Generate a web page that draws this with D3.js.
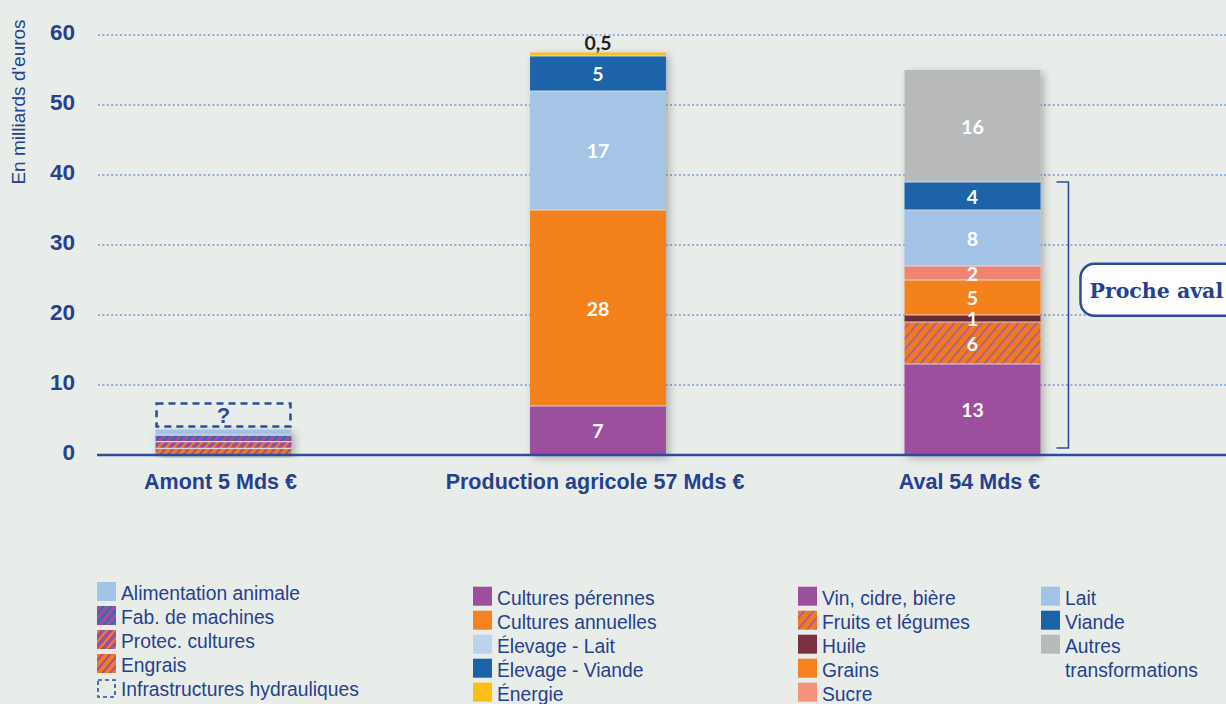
<!DOCTYPE html>
<html><head><meta charset="utf-8">
<script src="https://cdn.jsdelivr.net/npm/d3@7"></script>
<style>
html,body{margin:0;padding:0;background:#e9edea;}
svg{display:block;}
</style></head>
<body>
<svg id="chart" width="1226" height="704"></svg>
<script>
// ---------- DATA ----------
const categories = ["Amont 5 Mds €", "Production agricole 57 Mds €", "Aval 54 Mds €"];

const amontSeries = ["Engrais", "Protec. cultures", "Fab. de machines", "Alimentation animale"];
const amontValues = [0.95, 0.95, 0.95, 0.8];
const amontUnknown = 3.7;   // Infrastructures hydrauliques (?)

const productionSeries = ["Cultures pérennes", "Cultures annuelles", "Élevage - Lait", "Élevage - Viande", "Énergie"];
const productionValues = [7, 28, 17, 5, 0.5];
const productionLabels = ["7", "28", "17", "5", "0,5"];

const avalSeries = ["Vin, cidre, bière", "Fruits et légumes", "Huile", "Grains", "Sucre", "Lait", "Viande", "Autres transformations"];
const avalValues = [13, 6, 1, 5, 2, 8, 4, 16];
const avalLabels = ["13", "6", "1", "5", "2", "8", "4", "16"];
const procheAvalSeries = ["Vin, cidre, bière", "Fruits et légumes", "Huile", "Grains", "Sucre", "Lait", "Viande"];

const yTicks = [0, 10, 20, 30, 40, 50, 60];
const yTitle = "En milliards d'euros";

const legendCol1 = ["Alimentation animale", "Fab. de machines", "Protec. cultures", "Engrais", "Infrastructures hydrauliques"];
const legendCol2 = ["Cultures pérennes", "Cultures annuelles", "Élevage - Lait", "Élevage - Viande", "Énergie"];
const legendCol3 = ["Vin, cidre, bière", "Fruits et légumes", "Huile", "Grains", "Sucre"];
const legendCol4 = ["Lait", "Viande", "Autres transformations"];

// ---------- STYLE ----------
const TXT = "#25408f";
const fills = {
  "Engrais": "url(#p-engrais)",
  "Protec. cultures": "url(#p-protec)",
  "Fab. de machines": "url(#p-fab)",
  "Alimentation animale": "#a4c4e7",
  "Cultures pérennes": "#9b4f9d",
  "Cultures annuelles": "#f3821f",
  "Élevage - Lait": "#a6c4e6",
  "Élevage - Viande": "#1b63a9",
  "Énergie": "#fbbf14",
  "Vin, cidre, bière": "#9b4f9d",
  "Fruits et légumes": "url(#p-fruits)",
  "Huile": "#6b2b38",
  "Grains": "#f3821f",
  "Sucre": "#f08470",
  "Lait": "#a3c3e6",
  "Viande": "#1b63a9",
  "Autres transformations": "#b8b9bb"
};
const legendFills = Object.assign({}, fills, {
  "Élevage - Lait": "#bcd3ec",
  "Huile": "#7d3040",
  "Sucre": "#f5917c"
});

const svg = d3.select("#chart");
const defs = svg.append("defs");

function hatch(id, bg, stripe, sw, size) {
  const p = defs.append("pattern").attr("id", id)
    .attr("patternUnits", "userSpaceOnUse")
    .attr("width", size).attr("height", size)
    .attr("patternTransform", "rotate(40)");
  p.append("rect").attr("width", size).attr("height", size).attr("fill", bg);
  p.append("rect").attr("x", 0).attr("y", 0).attr("width", sw).attr("height", size).attr("fill", stripe);
}
hatch("p-engrais", "#f37a1f", "#9b4f9d", 2, 6);
hatch("p-protec", "#9b4f9d", "#f3821f", 2, 6);
hatch("p-fab", "#9b4f9d", "#2a6cb2", 2, 6);
hatch("p-fruits", "#f37a1f", "#9b5aa8", 1.6, 7);

const shadow = defs.append("filter").attr("id", "shadow")
  .attr("x", "-20%").attr("y", "-10%").attr("width", "140%").attr("height", "120%");
shadow.append("feDropShadow").attr("dx", 3).attr("dy", 3).attr("stdDeviation", 4)
  .attr("flood-color", "#000").attr("flood-opacity", 0.28);

// ---------- SCALES ----------
const y = d3.scaleLinear().domain([0, 60]).range([455, 35]);
const x = d3.scaleBand().domain(categories).range([36.25, 1159.75])
  .paddingInner(0.637).paddingOuter(0.3185);
const bw = x.bandwidth();

// ---------- GRID ----------
svg.append("g").selectAll("line").data(yTicks.filter(d => d > 0)).join("line")
  .attr("x1", 98).attr("x2", 1226)
  .attr("y1", d => y(d)).attr("y2", d => y(d))
  .attr("stroke", "#93abdf").attr("stroke-width", 2)
  .attr("stroke-dasharray", "2,2.4");

// tick labels
svg.append("g").selectAll("text").data(yTicks).join("text")
  .attr("x", 75).attr("y", d => y(d) - 3)
  .attr("text-anchor", "end").attr("dominant-baseline", "central")
  .attr("font-family", "Liberation Sans, Arial, sans-serif")
  .attr("font-weight", "bold").attr("font-size", 22.5)
  .attr("fill", TXT).text(d => d);

// y title
svg.append("text")
  .attr("transform", `translate(25,102) rotate(-90)`)
  .attr("text-anchor", "middle")
  .attr("font-family", "Liberation Sans, Arial, sans-serif")
  .attr("font-size", 19).attr("fill", TXT).text(yTitle);

// ---------- BARS ----------
function stackOf(series, values) {
  const ends = d3.cumsum(values);
  return series.map((s, i) => ({ key: s, v0: ends[i] - values[i], v1: ends[i], value: values[i] }));
}
const bars = [
  { cat: categories[0], segs: stackOf(amontSeries, amontValues), labels: null },
  { cat: categories[1], segs: stackOf(productionSeries, productionValues), labels: productionLabels },
  { cat: categories[2], segs: stackOf(avalSeries, avalValues), labels: avalLabels }
];

const gBars = svg.append("g");
bars.forEach(b => {
  const g = gBars.append("g");
  const g2 = g.append("g").attr("filter", "url(#shadow)");
  g2.selectAll("rect").data(b.segs).join("rect")
    .attr("x", x(b.cat)).attr("width", bw)
    .attr("y", d => y(d.v1)).attr("height", d => y(d.v0) - y(d.v1))
    .attr("fill", d => fills[d.key]);
  // separators
  g.selectAll("line.sep").data(b.segs.slice(1)).join("line")
    .attr("class", "sep")
    .attr("x1", x(b.cat)).attr("x2", x(b.cat) + bw)
    .attr("y1", d => y(d.v0)).attr("y2", d => y(d.v0))
    .attr("stroke", "#e4e9ee").attr("stroke-width", 1.2).attr("opacity", 0.85);
});

// ---------- SEGMENT LABELS ----------
bars.forEach(b => {
  if (!b.labels) return;
  b.segs.forEach((d, i) => {
    const small = d.value < 1;
    svg.append("text")
      .attr("x", x(b.cat) + bw / 2)
      .attr("y", small ? y(d.v1) - 10 : (y(d.v0) + y(d.v1)) / 2)
      .attr("text-anchor", "middle").attr("dominant-baseline", "central")
      .attr("font-family", "Lato, sans-serif").attr("font-weight", "bold")
      .attr("font-size", 19.5)
      .attr("fill", small ? "#231f20" : "#ffffff")
      .text(b.labels[i]);
  });
});

// ---------- UNKNOWN (?) BOX FOR AMONT ----------
const amontTop = d3.sum(amontValues);
const bx = x(categories[0]);
svg.append("rect")
  .attr("x", bx + 1).attr("width", bw - 2)
  .attr("y", y(amontTop + amontUnknown)).attr("height", y(amontTop) - y(amontTop + amontUnknown) - 3)
  .attr("fill", "none").attr("stroke", "#2d4b9b").attr("stroke-width", 2.5)
  .attr("stroke-dasharray", "7,5");
svg.append("text")
  .attr("x", bx + bw / 2).attr("y", (y(amontTop) + y(amontTop + amontUnknown)) / 2 - 1)
  .attr("text-anchor", "middle").attr("dominant-baseline", "central")
  .attr("font-family", "Liberation Sans, Arial, sans-serif").attr("font-weight", "bold")
  .attr("font-size", 22).attr("fill", "#2d4b9b").text("?");

// ---------- BASELINE ----------
svg.append("line").attr("x1", 97).attr("x2", 1226).attr("y1", y(0)).attr("y2", y(0))
  .attr("stroke", "#2d4b9b").attr("stroke-width", 2.5);

// ---------- X LABELS ----------
svg.append("g").selectAll("text").data(categories).join("text")
  .attr("x", d => x(d) + bw / 2 - 3).attr("y", 489)
  .attr("text-anchor", "middle")
  .attr("font-family", "Liberation Sans, Arial, sans-serif")
  .attr("font-weight", "bold").attr("font-size", 21.5)
  .attr("fill", TXT).text(d => d);

// ---------- PROCHE AVAL BRACKET ----------
const procheTop = d3.sum(avalValues.slice(0, procheAvalSeries.length));
const brX = x(categories[2]) + bw + 28;
const brTop = y(procheTop), brBot = y(0) - 7;
svg.append("path")
  .attr("d", `M${brX - 12},${brTop}H${brX}V${brBot}H${brX - 12}`)
  .attr("fill", "none").attr("stroke", "#2d4b9b").attr("stroke-width", 1.6);
const boxCy = y(23.6);
svg.append("rect")
  .attr("x", brX + 12).attr("y", boxCy - 26).attr("width", 170).attr("height", 52)
  .attr("rx", 14).attr("ry", 14)
  .attr("fill", "#ffffff").attr("stroke", "#2d4b9b").attr("stroke-width", 2.5);
svg.append("text")
  .attr("x", brX + 21).attr("y", boxCy + 1)
  .attr("dominant-baseline", "central")
  .attr("font-family", "DejaVu Serif, serif").attr("font-weight", "bold")
  .attr("font-size", 20.5).attr("fill", "#25408f").text("Proche aval");

// ---------- LEGEND ----------
const legendCols = [
  { items: legendCol1, x: 97, y0: 601 },
  { items: legendCol2, x: 473, y0: 605.7 },
  { items: legendCol3, x: 798, y0: 605.7 },
  { items: legendCol4, x: 1041, y0: 605.7 }
];
const rowH = 24;
legendCols.forEach(col => {
  let row = 0;
  col.items.forEach(name => {
    const base = col.y0 + row * rowH;
    const g = svg.append("g");
    if (name === "Infrastructures hydrauliques") {
      g.append("rect").attr("x", col.x + 1).attr("y", base - 17).attr("width", 17).attr("height", 17)
        .attr("fill", "none").attr("stroke", "#2d4b9b").attr("stroke-width", 1.6)
        .attr("stroke-dasharray", "4,3");
    } else {
      g.append("rect").attr("x", col.x).attr("y", base - 19).attr("width", 19).attr("height", 19)
        .attr("fill", legendFills[name]);
    }
    const t = g.append("text").attr("x", col.x + 24).attr("y", base - 1)
      .attr("font-family", "Liberation Sans, Arial, sans-serif")
      .attr("font-size", 19.3).attr("fill", TXT);
    if (name === "Autres transformations") {
      t.append("tspan").attr("x", col.x + 24).text("Autres");
      t.append("tspan").attr("x", col.x + 24).attr("dy", rowH).text("transformations");
      row += 2;
    } else {
      t.text(name);
      row += 1;
    }
  });
});
</script>
</body></html>
